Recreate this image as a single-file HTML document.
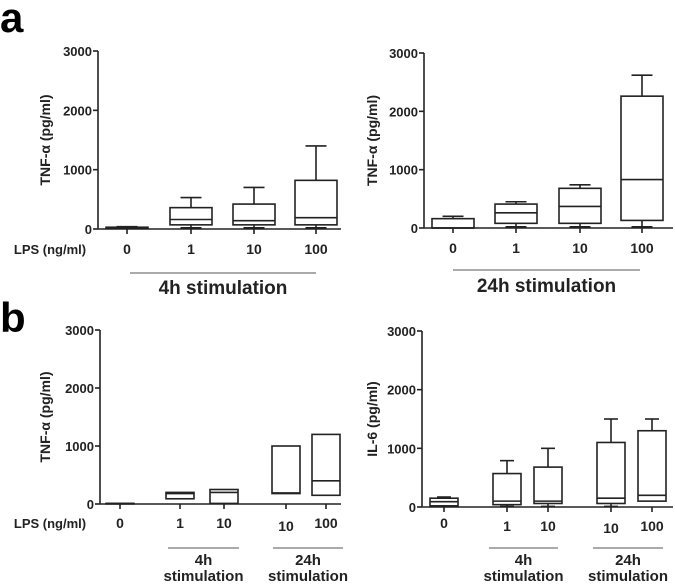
<!DOCTYPE html>
<html><head><meta charset="utf-8">
<style>
html,body{margin:0;padding:0;background:#fff;}
svg{display:block;font-family:"Liberation Sans",Arial,sans-serif;font-weight:bold;}
</style></head>
<body>
<svg id="fig" width="675" height="586" viewBox="0 0 675 586" xmlns="http://www.w3.org/2000/svg">
<text x="0" y="32" font-size="42">a</text>
<text x="0" y="332" font-size="42">b</text>
</svg>
<script>
// Panel a-left: TNF-alpha 4h
const aLeftCats = ["0","1","10","100"];
const aLeftMin = [10,20,20,20];
const aLeftQ1 = [15,70,70,70];
const aLeftMed = [20,160,140,190];
const aLeftQ3 = [30,360,420,820];
const aLeftMax = [40,530,700,1400];
// Panel a-right: TNF-alpha 24h
const aRightCats = ["0","1","10","100"];
const aRightMin = [0,20,20,20];
const aRightQ1 = [0,80,80,130];
const aRightMed = [0,260,370,830];
const aRightQ3 = [160,410,680,2260];
const aRightMax = [200,450,740,2620];
// Panel b-left: TNF-alpha
const bLeftCats = ["0","1","10","10","100"];
const bLeftMin = [10,90,10,180,150];
const bLeftQ1 = [10,90,10,180,150];
const bLeftMed = [10,180,200,190,400];
const bLeftQ3 = [10,200,250,1000,1200];
const bLeftMax = [10,200,250,1000,1200];
// Panel b-right: IL-6
const bRightCats = ["0","1","10","10","100"];
const bRightMin = [10,10,10,10,100];
const bRightQ1 = [20,40,60,60,100];
const bRightMed = [90,100,100,150,200];
const bRightQ3 = [150,570,680,1100,1300];
const bRightMax = [170,790,1000,1500,1500];
const yTicks = [0,1000,2000,3000];

const svg = document.getElementById('fig');
const NS = 'http://www.w3.org/2000/svg';
function mk(tag, attrs, parent){
  const e = document.createElementNS(NS, tag);
  for (const k in attrs) e.setAttribute(k, attrs[k]);
  (parent||svg).appendChild(e);
  return e;
}
function line(x1,y1,x2,y2,p,col,w){ return mk('line',{x1,y1,x2,y2,stroke:col||'#222','stroke-width':w||1.6},p); }
function txt(x,y,s,size,anchor,p){ const t=mk('text',{x,y,'font-size':size,'text-anchor':anchor||'middle',fill:'#222'},p); t.textContent=s; return t; }

function panel(cfg){
  const g = mk('g',{});
  
  
  const ys = v => cfg.y0 + (cfg.y3000 - cfg.y0) * v / 3000;
  const ax = line(cfg.ax, cfg.y3000, cfg.ax, cfg.y0, g);
  
  
  const xa = line(cfg.ax, cfg.y0, cfg.axEnd, cfg.y0, g);
  
  
  yTicks.forEach(v=>{
    line(cfg.ax-5, ys(v), cfg.ax, ys(v), g);
    const t = txt(cfg.ax-6, ys(v)+5, String(v), 13, 'end', g);
    
    
  });
  const yt = txt(0,0,cfg.ytitle,14,'middle',g);
  yt.setAttribute('transform', `translate(${cfg.ytx},${(cfg.y0+cfg.y3000)/2}) rotate(-90)`);
  
  
  cfg.cats.forEach((c,i)=>{
    const x = cfg.xs[i], hw = cfg.bw/2;
    line(x, cfg.y0, x, cfg.y0+5, g);
    const tl = txt(x, cfg.labY + (cfg.labDy ? cfg.labDy[i] : 0), c, 14, 'middle', g);
    
    
    const bg = mk('g',{},g);
    
    
    const q1=ys(cfg.q1[i]), q3=ys(cfg.q3[i]), md=ys(cfg.med[i]), mn=ys(cfg.min[i]), mx=ys(cfg.max[i]);
    if (cfg.max[i] > cfg.q3[i]) { line(x,q3,x,mx,bg); line(x-hw/2,mx,x+hw/2,mx,bg); }
    if (cfg.min[i] < cfg.q1[i]) { line(x,q1,x,mn,bg); line(x-hw/2,mn,x+hw/2,mn,bg); }
    mk('rect',{x:x-hw,y:q3,width:cfg.bw,height:Math.max(q1-q3,0.5),fill:'none',stroke:'#222','stroke-width':1.6},bg);
    line(x-hw,md,x+hw,md,bg);
  });
  if (cfg.lps) {
    const l = txt(cfg.lps, cfg.labY, 'LPS (ng/ml)', 13, 'middle', g);
    
    
  }
  cfg.groups.forEach(gr=>{
    const gl = line(gr.x1, gr.y, gr.x2, gr.y, g, '#777', 1.2);
    
    
    gr.lines.forEach((s,j)=>{
      const t = txt((gr.x1+gr.x2)/2, gr.ty + j*gr.lh, s, gr.size, 'middle', g);
      
      
    });
  });
}

panel({name:'chart-a-left',ax:98,axEnd:341,y0:229,y3000:51,ytx:50,ytitle:'TNF-α (pg/ml)',
  cats:aLeftCats,min:aLeftMin,q1:aLeftQ1,med:aLeftMed,q3:aLeftQ3,max:aLeftMax,
  xs:[127,191,254,316],bw:42,labY:254,lps:50,
  groups:[{x1:130,x2:316,y:273,lines:['4h stimulation'],ty:294,lh:0,size:19}]});
panel({name:'chart-a-right',ax:424,axEnd:673,y0:228,y3000:53,ytx:377,ytitle:'TNF-α (pg/ml)',
  cats:aRightCats,min:aRightMin,q1:aRightQ1,med:aRightMed,q3:aRightQ3,max:aRightMax,
  xs:[453,516,580,642],bw:42,labY:253,
  groups:[{x1:453,x2:640,y:270,lines:['24h stimulation'],ty:292,lh:0,size:19}]});
panel({name:'chart-b-left',ax:100,axEnd:341,y0:504,y3000:330,ytx:50,ytitle:'TNF-α (pg/ml)',
  cats:bLeftCats,min:bLeftMin,q1:bLeftQ1,med:bLeftMed,q3:bLeftQ3,max:bLeftMax,
  xs:[120,180,224,286,326],bw:28,labY:528,labDy:[0,0,0,3,0],lps:50,
  groups:[{x1:168,x2:239,y:548,lines:['4h','stimulation'],ty:565,lh:16,size:15},
          {x1:273,x2:343,y:548,lines:['24h','stimulation'],ty:565,lh:16,size:15}]});
panel({name:'chart-b-right',ax:422,axEnd:673,y0:507,y3000:331,ytx:377,ytitle:'IL-6 (pg/ml)',
  cats:bRightCats,min:bRightMin,q1:bRightQ1,med:bRightMed,q3:bRightQ3,max:bRightMax,
  xs:[444,507,548,611,652],bw:28,labY:528,labDy:[0,3,3,5,3],
  groups:[{x1:489,x2:558,y:548,lines:['4h','stimulation'],ty:565,lh:16,size:15},
          {x1:593,x2:663,y:548,lines:['24h','stimulation'],ty:565,lh:16,size:15}]});
</script>
</body></html>
